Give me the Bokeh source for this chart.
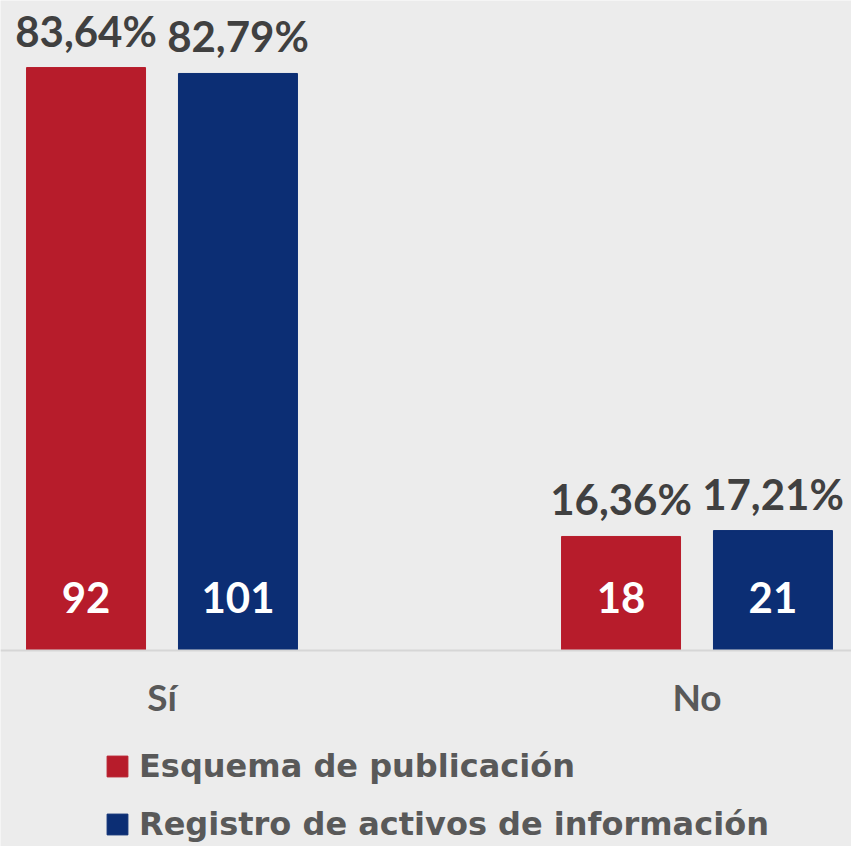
from bokeh.plotting import figure
from bokeh.models import ColumnDataSource, Range1d, Span
from bokeh.core.properties import value
from bokeh.embed import file_html
from bokeh.resources import INLINE

# ---- data ----
categories = ["Sí", "No"]
series_names = ["Esquema de publicación", "Registro de activos de información"]
esquema_pct = [83.64, 16.36]
registro_pct = [82.79, 17.21]
esquema_n = [92, 18]
registro_n = [101, 21]
colors = ["#B71C2B", "#0C2E74"]

FONT = value("Lato")
BG = "#ececec"

centers = [i + 0.5 for i in range(len(categories))]
offset = 0.142
bar_w = 0.2224

def fmt(v):
    return f"{v:.2f}".replace(".", ",") + "%"

src_e = ColumnDataSource(dict(
    x=[c - offset for c in centers], top=esquema_pct,
    pct=[fmt(v) for v in esquema_pct], n=[str(v) for v in esquema_n]))
src_r = ColumnDataSource(dict(
    x=[c + offset for c in centers], top=registro_pct,
    pct=[fmt(v) for v in registro_pct], n=[str(v) for v in registro_n]))
src_c = ColumnDataSource(dict(x=centers, y=[0] * len(categories), label=categories))

p = figure(width=851, height=846, output_backend="svg", toolbar_location=None,
           x_range=Range1d(0.19813, 1.78878), y_range=Range1d(-28.12, 93.26),
           min_border=0, x_axis_location=None, y_axis_location=None)
p.background_fill_color = BG
p.border_fill_color = BG
p.outline_line_color = None
p.grid.visible = False

p.add_layout(Span(location=0, dimension="width", line_color="#d6d6d6", line_width=2))

p.vbar(x="x", top="top", width=bar_w, bottom=0, source=src_e, color=colors[0],
       legend_label=series_names[0])
p.vbar(x="x", top="top", width=bar_w, bottom=0, source=src_r, color=colors[1],
       legend_label=series_names[1])

for src in (src_e, src_r):
    p.text(x="x", y="top", text="pct", source=src, text_font=FONT, text_font_style="bold",
           text_font_size="42px", text_color="#404040", text_align="center",
           text_baseline="alphabetic", y_offset=-37)
    p.text(x="x", y=0, text="n", source=src, text_font=FONT, text_font_style="bold",
           text_font_size="42px", text_color="white", text_align="center",
           text_baseline="alphabetic", y_offset=-53)

p.text(x="x", y="y", text="label", source=src_c, text_font=FONT, text_font_style="bold",
       text_font_size="37px", text_color="#595959", text_align="center",
       text_baseline="alphabetic", y_offset=46)

lg = p.legend[0]
lg.location = (104, 0)
lg.orientation = "vertical"
lg.background_fill_alpha = 0
lg.border_line_color = None
lg.padding = 0
lg.margin = 0
lg.spacing = 14
lg.glyph_width = 26
lg.glyph_height = 26
lg.label_standoff = 9
lg.label_text_font = "DejaVu Sans"
lg.label_text_font_style = "bold"
lg.label_text_font_size = "32px"
lg.label_text_color = "#595959"
lg.label_height = 44

open("out.html", "w").write(file_html(p, INLINE))
